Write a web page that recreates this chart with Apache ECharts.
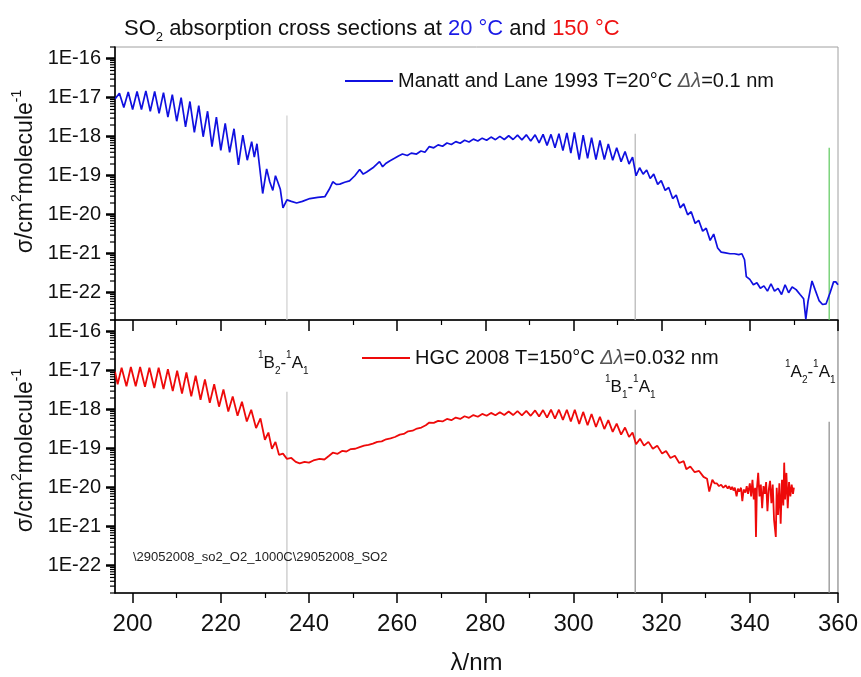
<!DOCTYPE html>
<html><head><meta charset="utf-8">
<script src="https://cdn.jsdelivr.net/npm/echarts@6/dist/echarts.min.js"></script>
<style>html,body{margin:0;padding:0;background:#fff}#c{width:861px;height:677px}</style>
</head><body><div id="c"></div>
<script>
// ---- axis ticks / labels ----
const xLabelValues = [200, 220, 240, 260, 280, 300, 320, 340, 360];
const xMinorValues = [210, 230, 250, 270, 290, 310, 330, 350];
const yLabelValues = [1e-16, 1e-17, 1e-18, 1e-19, 1e-20, 1e-21, 1e-22];
const yMinorMantissas = [2, 3, 4, 5, 6, 7, 8, 9];
const yMin = 2e-23, yMax = 2e-16, xMin = 196, xMax = 360;

// ---- Manatt and Lane 1993, T=20 C (blue) : [lambda nm, sigma cm2/molecule] ----
const blueBands = [
[196.0,9.3e-18],[197.0,1.3e-17],[198.0,5.6e-18],[199.0,1.4e-17],[200.0,5.0e-18],[201.0,1.45e-17],
[202.0,5.0e-18],[203.0,1.5e-17],[204.0,4.5e-18],[205.0,1.45e-17],[206.0,4.0e-18],[207.0,1.35e-17],
[208.0,3.2e-18],[209.0,1.2e-17],[210.0,2.5e-18],[211.0,1.0e-17],[212.0,1.8e-18],[213.0,8.0e-18],
[214.0,1.3e-18],[215.0,6.3e-18],[216.0,1.0e-18],[217.0,4.5e-18],[218.0,5.6e-19],[219.0,3.2e-18],
[220.0,4.5e-19],[221.0,2.2e-18],[222.0,4.0e-19],[223.0,1.6e-18],[224.0,1.9e-19],[225.0,1.1e-18],
[226.0,2.5e-19],[227.0,7.5e-19],[227.6,3.0e-19],[228.2,6.6e-19],[229.5,3.5e-20],[230.4,1.5e-19],
[231.1,7.0e-20],[231.8,4.2e-20],[232.4,1.0e-19],[232.9,7.0e-20],[233.5,4.5e-20],[234.1,1.5e-20],
[235.0,2.4e-20]
];
const blueMid = [
[236.0,2.2e-20],[237.2,2.0e-20],[238.5,2.2e-20],[240.2,2.6e-20],[242.0,2.8e-20],[243.6,2.9e-20],
[244.6,4.5e-20],[245.4,7.0e-20],[246.2,6.0e-20],[247.0,6.1e-20],[248.1,6.8e-20],[249.2,7.4e-20],
[250.4,1.0e-19],[251.5,1.45e-19],[252.3,1.1e-19],[253.1,1.25e-19],[254.5,1.6e-19],[256.0,2.3e-19],
[256.7,1.7e-19],[257.5,2.1e-19],[258.3,2.4e-19],[259.4,2.8e-19],[260.3,3.2e-19],[261.2,3.6e-19],
[262.3,3.3e-19],[263.2,3.8e-19],[264.4,3.6e-19],[265.4,4.3e-19],[266.3,4.0e-19],[267.3,5.6e-19],
[268.3,5.2e-19],[269.3,6.2e-19],[270.3,5.7e-19],[271.3,6.9e-19],[272.3,6.3e-19],[273.3,7.5e-19],
[274.3,6.8e-19],[275.3,8.1e-19],[276.3,7.3e-19],[277.3,8.7e-19],[278.3,7.8e-19],[279.3,9.2e-19],
[280.3,8.1e-19],[281.3,9.8e-19],[282.3,8.4e-19],[283.3,1.02e-18],[284.3,8.5e-19],[285.3,1.06e-18],
[286.3,8.5e-19],[287.3,1.1e-18],[288.3,8.3e-19],[289.3,1.12e-18],[290.3,7.8e-19],[291.3,1.12e-18],
[292.2,7.0e-19],[293.1,1.15e-18],[294.0,6.0e-19],[294.9,1.15e-18],[295.8,5.2e-19],[296.7,1.2e-18],
[297.6,4.4e-19],[298.5,1.25e-18],[299.4,3.8e-19]
];
const blueTail = [
[300.2,1.3e-18],[301.3,2.6e-19],[302.2,1.1e-18],[303.2,2.8e-19],[304.1,9.5e-19],[305.1,2.6e-19],
[306.0,8.0e-19],[307.0,2.6e-19],[307.9,6.5e-19],[308.9,2.5e-19],[309.8,5.2e-19],[310.8,2.3e-19],
[311.7,4.2e-19],[312.6,2.0e-19],[313.4,3.0e-19],[314.2,1.0e-19],[315.0,1.6e-19],[315.8,1.1e-19],
[316.6,1.4e-19],[317.4,8.5e-20],[318.2,1.1e-19],[319.1,6.0e-20],[319.9,7.5e-20],[320.8,4.2e-20],
[321.6,5.0e-20],[322.5,2.6e-20],[323.3,3.2e-20],[324.2,1.5e-20],[325.0,1.9e-20],[325.9,1.0e-20],
[326.7,1.2e-20],[327.6,6.0e-21],[328.4,7.2e-21],[329.3,3.8e-21],[330.1,4.5e-21],[331.0,2.2e-21],
[331.8,3.2e-21],[332.7,1.4e-21],[333.5,1.1e-21],[334.5,1.05e-21],[335.5,1.0e-21],[336.5,1.0e-21],
[337.5,9.5e-22],[338.2,1.0e-21],[338.8,7.0e-22],[339.2,2.6e-22],[340.0,2.2e-22],[340.8,1.6e-22],
[341.6,1.8e-22],[342.4,1.3e-22],[343.2,1.5e-22],[344.0,1.1e-22],[344.8,1.7e-22],[345.6,1.1e-22],
[346.4,1.3e-22],[347.2,9.0e-23],[348.0,1.6e-22],[348.8,1.0e-22],[349.6,1.4e-22],[350.5,1.2e-22],
[351.4,9.0e-23],[352.2,7.0e-23],[352.7,2.1e-23],[353.2,6.0e-23],[354.1,2.0e-22],[354.8,1.2e-22],
[355.7,6.3e-23],[356.5,5.0e-23],[357.3,5.2e-23],[358.2,1.0e-22],[359.0,1.9e-22],[359.5,1.9e-22],
[360.0,1.6e-22]
];

// ---- HGC 2008, T=150 C (red) ----
const redBands = [
[196.0,9.4e-18],[196.6,4.5e-18],[197.5,1.2e-17],[198.6,4.0e-18],[199.6,1.25e-17],[200.7,4.0e-18],
[201.7,1.25e-17],[202.8,3.9e-18],[203.8,1.2e-17],[204.9,3.6e-18],[205.9,1.2e-17],[207.0,3.4e-18],
[208.0,1.1e-17],[209.1,3.0e-18],[210.1,1.0e-17],[211.2,2.6e-18],[212.2,9.0e-18],[213.3,2.2e-18],
[214.3,7.5e-18],[215.4,1.8e-18],[216.4,6.0e-18],[217.5,1.5e-18],[218.5,4.5e-18],[219.6,1.2e-18],
[220.6,3.3e-18],[221.7,9.0e-19],[222.7,2.2e-18],[223.8,7.0e-19],[224.8,1.6e-18],[225.9,5.0e-19],
[226.9,1.0e-18],[228.0,3.4e-19],[229.0,6.0e-19],[230.0,1.7e-19],[230.8,2.6e-19],[231.6,1.0e-19],
[232.4,1.5e-19],[233.2,7.0e-20],[234.1,7.5e-20],[235.0,5.5e-20]
];
const redMid = [
[236.0,5.8e-20],[237.0,4.6e-20],[237.9,4.2e-20],[239.0,4.6e-20],[240.0,4.4e-20],[241.0,5.0e-20],
[242.4,5.5e-20],[243.5,5.3e-20],[244.5,6.5e-20],[245.4,7.9e-20],[246.5,7.4e-20],[247.5,8.8e-20],
[248.5,8.5e-20],[249.5,9.8e-20],[250.5,1.0e-19],[251.5,1.1e-19],[252.5,1.2e-19],[253.5,1.25e-19],
[254.5,1.35e-19],[255.5,1.5e-19],[256.5,1.55e-19],[257.5,1.75e-19],[258.5,1.85e-19],[259.5,2.0e-19],
[260.6,2.3e-19],[261.5,2.4e-19],[262.5,2.8e-19],[263.5,2.9e-19],[264.5,3.3e-19],[265.5,3.5e-19],
[266.5,4.0e-19],[267.3,4.7e-19],[268.3,4.6e-19],[269.3,5.2e-19],[270.3,5.0e-19],[271.3,5.8e-19],
[272.3,5.4e-19],[273.3,6.3e-19],[274.3,5.8e-19],[275.3,6.8e-19],[276.3,6.2e-19],[277.3,7.3e-19],
[278.3,6.6e-19],[279.3,7.8e-19],[280.3,7.0e-19],[281.3,8.3e-19],[282.3,7.2e-19],[283.3,8.6e-19],
[284.3,7.3e-19],[285.3,9.0e-19],[286.3,7.3e-19],[287.3,9.2e-19],[288.3,7.2e-19],[289.3,9.4e-19],
[290.3,7.0e-19],[291.3,9.6e-19],[292.2,6.7e-19],[293.1,9.8e-19],[294.0,6.3e-19],[294.9,1.0e-18],
[295.8,5.9e-19],[296.7,1.0e-18],[297.6,5.5e-19],[298.5,1.0e-18],[299.4,5.0e-19]
];
const redTail = [
[300.3,1.0e-18],[301.3,4.3e-19],[302.2,8.8e-19],[303.2,4.0e-19],[304.1,7.8e-19],[305.1,3.6e-19],
[306.0,6.6e-19],[307.0,3.2e-19],[307.9,5.4e-19],[308.9,2.7e-19],[309.8,4.4e-19],[310.8,2.3e-19],
[311.7,3.5e-19],[312.6,2.0e-19],[313.4,2.6e-19],[314.2,1.3e-19],[315.1,1.8e-19],[316.0,1.2e-19],
[317.0,1.5e-19],[318.0,1.0e-19],[319.0,1.2e-19],[320.1,7.5e-20],[321.0,8.8e-20],[322.0,5.8e-20],
[323.0,6.6e-20],[324.0,4.3e-20],[325.0,4.8e-20],[325.6,3.0e-20],[326.5,3.5e-20],[327.5,2.5e-20],
[328.5,2.7e-20],[329.5,1.9e-20],[330.3,1.7e-20],[330.8,8.0e-21],[331.5,1.6e-20],[332.0,1.3e-20]
];
const redNoise = [
[332.5,1.3e-20],[333.0,1.1e-20],[333.5,1.2e-20],[334.0,1.0e-20],[334.5,1.15e-20],[335.0,9.5e-21],
[335.3,1.1e-20],[335.7,9.0e-21],[336.0,1.05e-20],[336.3,8.5e-21],[336.6,1.0e-20],[337.0,6.0e-21],
[337.3,9.5e-21],[337.6,8.0e-21],[338.0,1.0e-20],[338.3,4.5e-21],[338.6,9.0e-21],[339.0,7.5e-21],
[339.3,1.1e-20],[339.6,7.0e-21],[340.0,1.3e-20],[340.3,6.0e-21],[340.6,1.6e-20],[340.9,5.0e-21],
[341.2,1.0e-20],[341.4,5.5e-22],[341.6,9.0e-21],[341.9,2.4e-20],[342.2,6.0e-21],[342.5,1.2e-20],
[342.8,3.0e-21],[343.1,1.1e-20],[343.4,7.0e-21],[343.7,1.4e-20],[344.0,2.5e-21],[344.3,9.0e-21],
[344.6,1.5e-20],[344.9,4.0e-21],[345.2,1.2e-20],[345.5,1.5e-21],[345.9,5.5e-22],[346.1,1.0e-20],
[346.4,2.0e-21],[346.7,1.3e-20],[347.0,1.2e-21],[347.3,1.6e-20],[347.6,3.5e-21],[347.8,4.4e-20],
[348.0,5.0e-21],[348.3,2.4e-20],[348.6,3.0e-21],[348.9,1.4e-20],[349.2,6.0e-21],[349.5,1.2e-20],
[349.8,7.0e-21],[350.0,1.0e-20]
];

// ---- transition marker lines: wavelength and upper end in each panel ----
const markerLambda = [235, 314, 358];
const markerTopPanelUpper = [3.5e-18, 1.2e-18, 5.2e-19];
const markerBottomPanelUpper = [2.9e-18, 1.0e-18, 4.9e-19];

const FONT = 'Liberation Sans, Arial, sans-serif';
const blueData = blueBands.concat(blueMid, blueTail);
const redData = redBands.concat(redMid, redTail, redNoise);

// minor log tick values 2..9 x 10^n inside the axis range
const yMinorValues = [];
for (let e = -23; e <= -16; e++) {
  yMinorMantissas.forEach(m => {
    const v = m * Math.pow(10, e);
    if (v >= yMin * 0.999 && v <= yMax * 1.001) yMinorValues.push(v);
  });
}
function fmtY(v) {
  const l = Math.log10(v);
  if (Math.abs(l - Math.round(l)) > 0.01) return '';
  return '1E' + Math.round(l);
}

const chart = echarts.init(document.getElementById('c'), null, {renderer: 'canvas'});

const grids = [
  {left: 115, right: 23, top: 47, height: 273, show: true, borderColor: '#a0a0a0', borderWidth: 1},
  {left: 115, right: 23, top: 320, height: 273, show: true, borderColor: '#707070', borderWidth: 1}
];

function xMain(gi, showLabels, tickLen) {
  return {
    type: 'value', gridIndex: gi, min: xMin, max: xMax, position: 'bottom',
    splitLine: {show: false},
    axisLine: {show: true, lineStyle: {color: '#000', width: 1.6}},
    axisTick: {show: true, inside: false, length: tickLen, customValues: xLabelValues, lineStyle: {color: '#000', width: 1.5}},
    axisLabel: {show: showLabels, customValues: xLabelValues, margin: 19, fontSize: 24, color: '#111', fontFamily: FONT},
    name: showLabels ? 'λ/nm' : '', nameLocation: 'middle', nameGap: 58,
    nameTextStyle: {fontSize: 24, color: '#111', fontFamily: FONT}
  };
}
function xMinor(gi) {
  return {
    type: 'value', gridIndex: gi, min: xMin, max: xMax, position: 'bottom',
    splitLine: {show: false}, axisLine: {show: false},
    axisTick: {show: true, inside: false, length: 5, customValues: xMinorValues, lineStyle: {color: '#000', width: 1.2}},
    axisLabel: {show: false}
  };
}
const yNameRich = {
  n: {fontSize: 23, color: '#111', fontFamily: FONT, lineHeight: 30, verticalAlign: 'middle'},
  p: {fontSize: 14, color: '#111', fontFamily: FONT, verticalAlign: 'top'}
};
function yMain(gi, pad) {
  return {
    type: 'log', logBase: 10, gridIndex: gi, min: yMin, max: yMax, position: 'left',
    splitLine: {show: false},
    axisLine: {show: true, lineStyle: {color: '#000', width: 1.6}},
    axisTick: {show: true, inside: false, length: 9, customValues: yLabelValues, lineStyle: {color: '#000', width: 2.5}},
    axisLabel: {show: true, customValues: yLabelValues, formatter: fmtY, margin: 14, fontSize: 20, color: '#111', fontFamily: FONT},
    name: '{n|σ/cm}{p|2}{n|molecule}{p|-1}', nameLocation: 'middle', nameGap: 66, nameRotate: 90,
    nameTextStyle: {rich: yNameRich, padding: [0, 0, 0, pad]}
  };
}

// minor tick marks on the log y scale, positioned through the axis (api.coord)
function yMinorTickSeries(xi, yi) {
  return {
    type: 'custom', xAxisIndex: xi, yAxisIndex: yi, clip: false, silent: true, z: 10,
    data: yMinorValues.map(v => [xMin, v]),
    renderItem: (params, api) => {
      const p = api.coord([api.value(0), api.value(1)]);
      return {type: 'line', shape: {x1: p[0] - 5, y1: p[1], x2: p[0], y2: p[1]},
              style: {stroke: '#000', lineWidth: 1.2}};
    }
  };
}

function markerSeries(idx, panelUpper, colors, xi, yi) {
  return markerLambda.map((lam, i) => ({
    type: 'line', name: 'marker' + idx + '_' + i, xAxisIndex: xi, yAxisIndex: yi,
    data: [[lam, panelUpper[i]], [lam, yMin]], symbol: 'none', silent: true, animation: false,
    lineStyle: {color: colors[i], width: 1.2}, z: 1
  }));
}

const supRich = {
  n: {fontSize: 17, fill: '#111', fontFamily: FONT, lineHeight: 26, verticalAlign: 'middle'},
  p: {fontSize: 10, fill: '#111', fontFamily: FONT, verticalAlign: 'top'},
  b: {fontSize: 10, fill: '#111', fontFamily: FONT, verticalAlign: 'bottom'}
};
function transLabel(text, x, y) {
  return {type: 'text', x: x, y: y, style: {text: text, rich: supRich, textVerticalAlign: 'middle', fill: '#111', font: '17px ' + FONT}, z: 100};
}

const legendRich = {
  i: {fontStyle: 'italic', color: '#555', fontSize: 20, fontFamily: FONT}
};

chart.setOption({
  animation: false,
  backgroundColor: '#fff',
  title: {
    left: 119, top: 9,
    text: '{n|SO}{sub|2}{n| absorption cross sections at }{b|20 °C}{n| and }{r|150 °C}',
    textStyle: {
      fontWeight: 'normal',
      rich: {
        n: {fontSize: 22, fontWeight: 'normal', color: '#111', fontFamily: FONT, lineHeight: 30, verticalAlign: 'middle'},
        sub: {fontSize: 13, fontWeight: 'normal', color: '#111', fontFamily: FONT, verticalAlign: 'bottom'},
        b: {fontSize: 22, fontWeight: 'normal', color: '#1a1ae6', fontFamily: FONT, lineHeight: 30, verticalAlign: 'middle'},
        r: {fontSize: 22, fontWeight: 'normal', color: '#ee1111', fontFamily: FONT, lineHeight: 30, verticalAlign: 'middle'}
      }
    }
  },
  legend: [
    {data: [{name: 'Manatt and Lane 1993', icon: 'rect'}], left: 340, top: 66, itemWidth: 48, itemHeight: 2,
     formatter: () => 'Manatt and Lane 1993 T=20°C {i|Δλ}=0.1 nm',
     textStyle: {fontSize: 20, color: '#111', fontFamily: FONT, rich: legendRich}},
    {data: [{name: 'HGC 2008', icon: 'rect'}], left: 357, top: 343, itemWidth: 48, itemHeight: 2,
     formatter: () => 'HGC 2008 T=150°C {i|Δλ}=0.032 nm',
     textStyle: {fontSize: 20, color: '#111', fontFamily: FONT, rich: legendRich}}
  ],
  grid: grids,
  xAxis: [xMain(0, false, 11), xMinor(0), xMain(1, true, 10), xMinor(1)],
  yAxis: [yMain(0, 24), yMain(1, 12)],
  series: [].concat(
    markerSeries(0, markerTopPanelUpper, ['#cfcfcf', '#b4b4b4', '#5cc85c'], 0, 0),
    markerSeries(1, markerBottomPanelUpper, ['#c4c4c4', '#909090', '#8a8a8a'], 2, 1),
    [
      yMinorTickSeries(0, 0),
      yMinorTickSeries(2, 1),
      {type: 'line', name: 'Manatt and Lane 1993', xAxisIndex: 0, yAxisIndex: 0, data: blueData,
       symbol: 'none', showSymbol: false, lineStyle: {color: '#1010e0', width: 1.7}, itemStyle: {color: '#1010e0'}, z: 5},
      {type: 'line', name: 'HGC 2008', xAxisIndex: 2, yAxisIndex: 1, data: redData,
       symbol: 'none', showSymbol: false, lineStyle: {color: '#ee0a0a', width: 1.8}, itemStyle: {color: '#ee0a0a'}, z: 5}
    ]
  ),
  graphic: [
    transLabel('{p|1}{n|B}{b|2}{n|-}{p|1}{n|A}{b|1}', 258, 363),
    transLabel('{p|1}{n|B}{b|1}{n|-}{p|1}{n|A}{b|1}', 605, 387),
    transLabel('{p|1}{n|A}{b|2}{n|-}{p|1}{n|A}{b|1}', 785, 372),
    {type: 'text', x: 133, y: 557, z: 100,
     style: {text: '\\29052008_so2_O2_1000C\\29052008_SO2', font: '13px ' + FONT, fill: '#222', textVerticalAlign: 'middle'}}
  ]
});
</script>
</body></html>
